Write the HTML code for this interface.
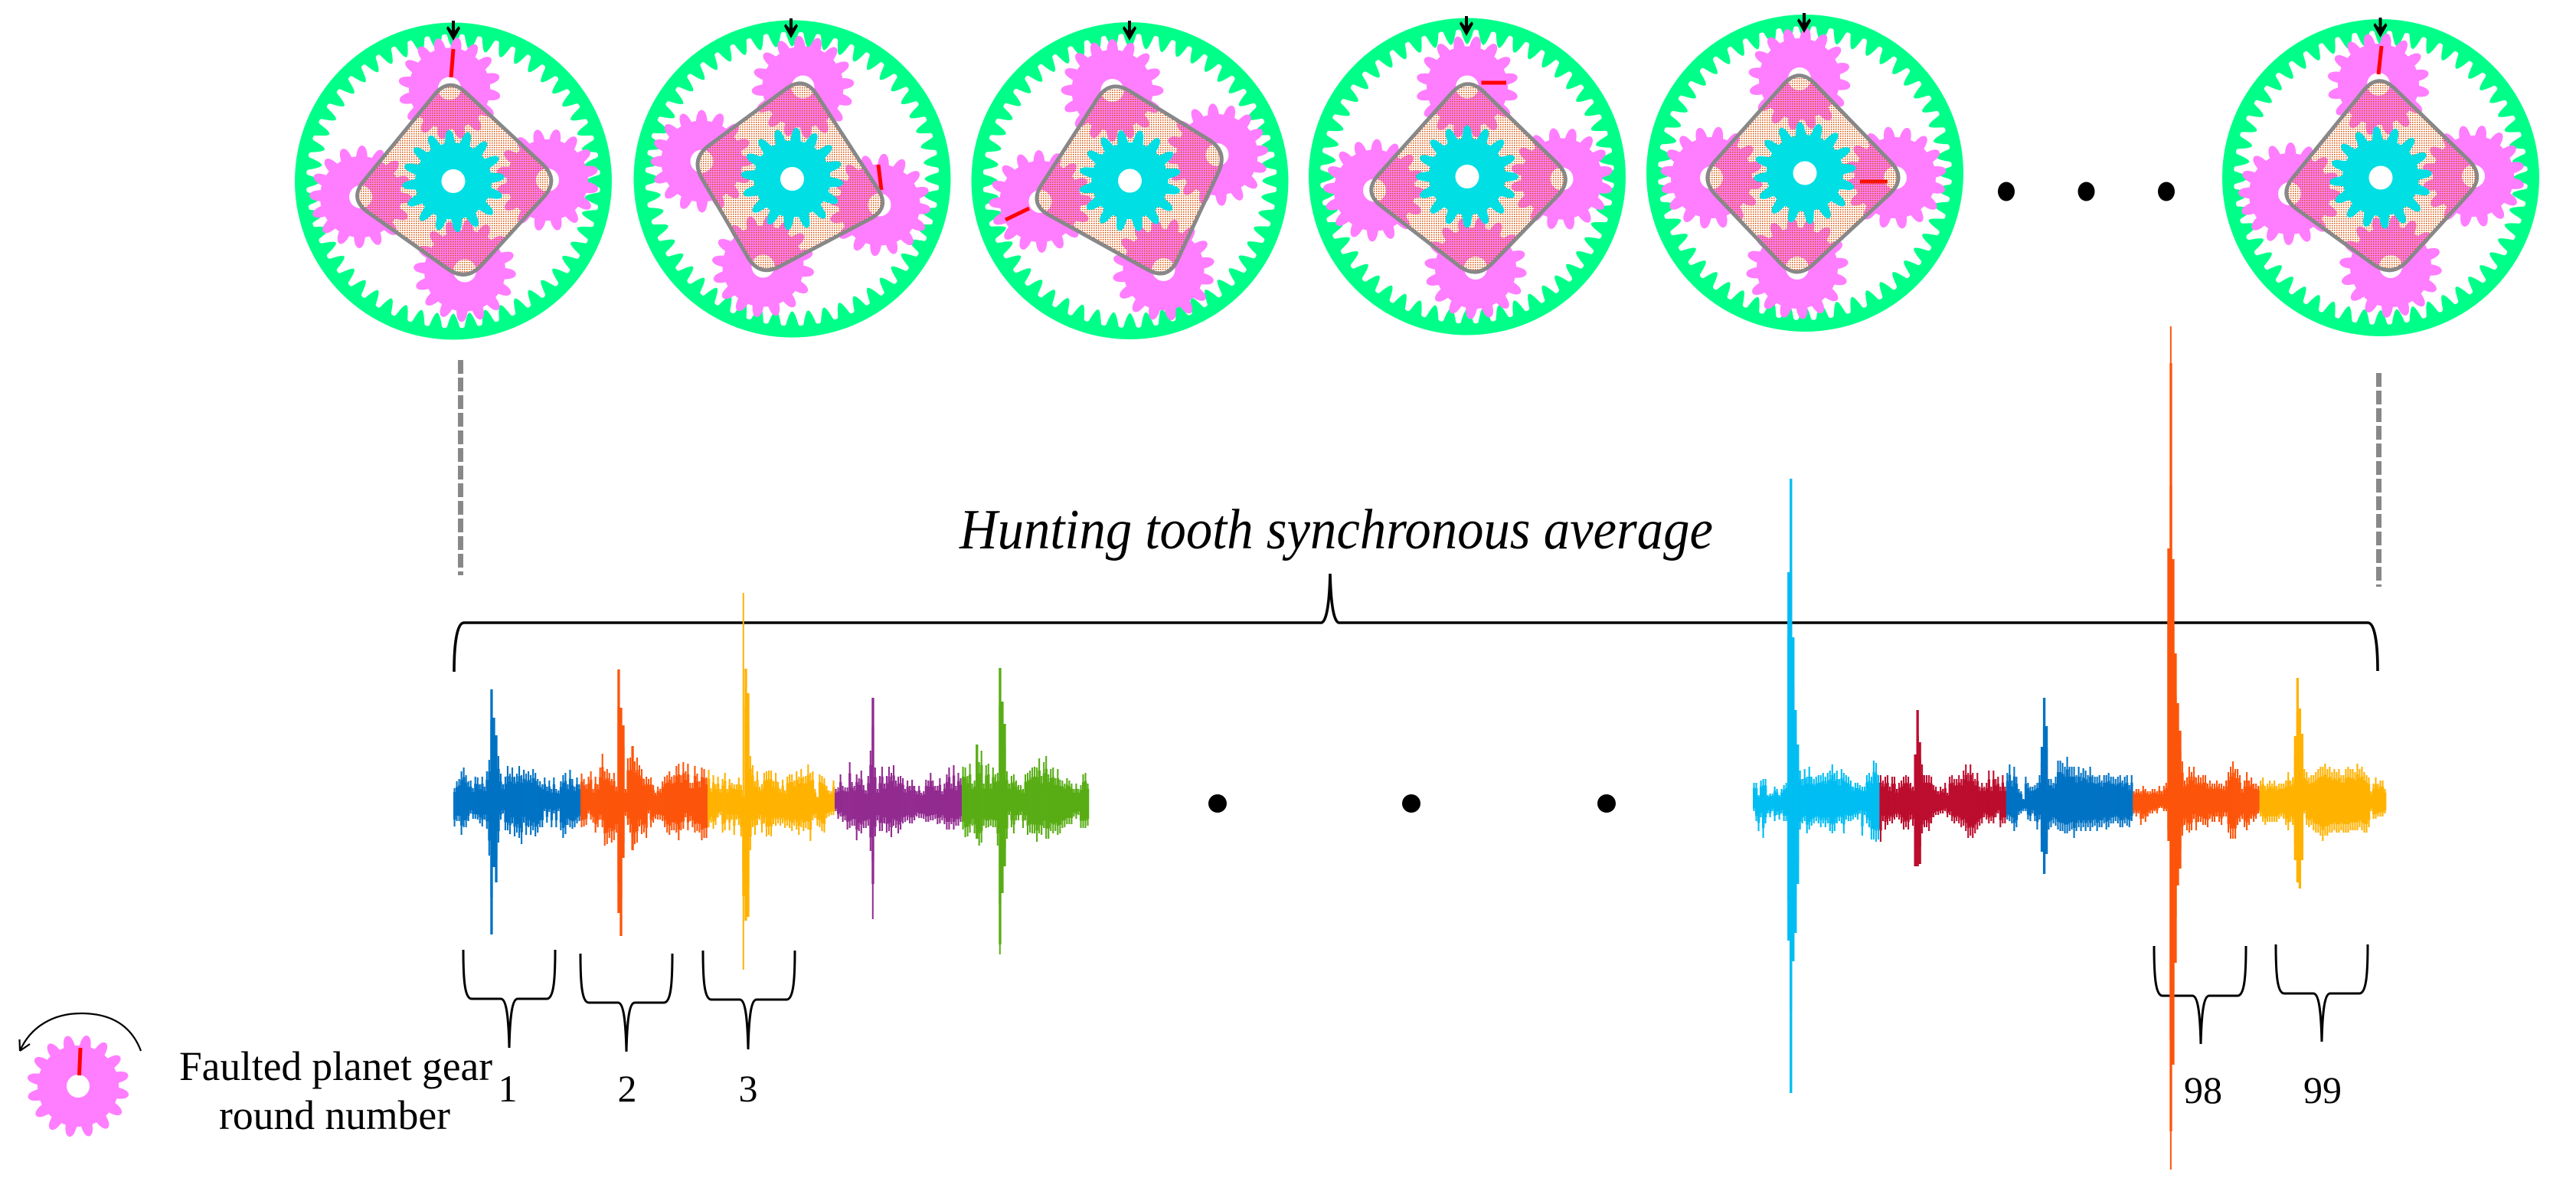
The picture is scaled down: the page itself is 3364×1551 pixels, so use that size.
<!DOCTYPE html>
<html lang="en">
<head>
<meta charset="utf-8">
<title>Hunting tooth synchronous average</title>
<style>
html,body{margin:0;padding:0;background:#fff;width:3364px;height:1551px;overflow:hidden}
svg{display:block}
text{font-family:"Liberation Serif",serif;fill:#000}
</style>
</head>
<body>
<svg id="figure" xmlns="http://www.w3.org/2000/svg" width="3364" height="1551" viewBox="0 0 3364 1551">
  <defs>
    <pattern id="carrier-dots" width="3" height="3" patternUnits="userSpaceOnUse">
      <rect width="1.5" height="1.5" fill="#d94f00"></rect>
    </pattern>
  </defs>
  <rect width="3364" height="1551" fill="#fff"></rect>
  <g id="gears"></g>

  <g fill="#000">
    <ellipse cx="2620" cy="250" rx="11" ry="12.5"></ellipse>
    <ellipse cx="2724.5" cy="250" rx="11" ry="12.5"></ellipse>
    <ellipse cx="2829" cy="250" rx="11" ry="12.5"></ellipse>
  </g>

  <line x1="601.5" y1="470" x2="601.5" y2="751" stroke="#888" stroke-width="7" stroke-dasharray="18 5"></line>
  <line x1="3106.5" y1="487" x2="3106.5" y2="766" stroke="#888" stroke-width="7" stroke-dasharray="18 5"></line>

  <text x="1253" y="716" font-size="74" font-style="italic" textLength="984" lengthAdjust="spacingAndGlyphs">Hunting tooth synchronous average</text>

  <path fill="none" stroke="#000" stroke-width="3.6" d="M593 877 C593 845 596 813 606 813 L1725 813 C1732 813 1736 790 1737 749 C1738 790 1742 813 1749 813 L3092 813 C3102 813 3105 845 3105 876"></path>

  <g fill="none" stroke="#000" stroke-width="3">
    <path d="M605 1240 C605 1280 607 1304 616 1304 L654 1304 C661 1304 664 1325 665 1368 C666 1325 669 1304 676 1304 L714 1304 C723 1304 725 1280 725 1240"></path>
    <path d="M758 1245 C758 1285 760 1309 769 1309 L807 1309 C814 1309 817 1330 818 1373 C819 1330 822 1309 829 1309 L867 1309 C876 1309 878 1285 878 1245"></path>
    <path d="M918 1241 C918 1281 920 1305 929 1305 L966 1305 C973 1305 976 1326 977 1370 C978 1326 981 1305 988 1305 L1027 1305 C1036 1305 1038 1281 1038 1241"></path>
    <path d="M2813 1235 C2813 1275 2815 1300 2824 1300 L2863 1300 C2870 1300 2873 1321 2874 1363 C2875 1321 2878 1300 2885 1300 L2922 1300 C2931 1300 2933 1275 2933 1235"></path>
    <path d="M2972 1233 C2972 1273 2974 1297 2983 1297 L3021 1297 C3028 1297 3031 1318 3032 1360 C3033 1318 3036 1297 3043 1297 L3081 1297 C3090 1297 3092 1273 3092 1233"></path>
  </g>

  <g id="signal"></g>

  <g fill="#000">
    <ellipse cx="1590" cy="1049" rx="12" ry="12"></ellipse>
    <ellipse cx="1843" cy="1049" rx="12" ry="12"></ellipse>
    <ellipse cx="2098" cy="1049" rx="12" ry="12"></ellipse>
  </g>

  <text x="663" y="1438" font-size="50" text-anchor="middle">1</text>
  <text x="819" y="1438" font-size="50" text-anchor="middle">2</text>
  <text x="977" y="1438" font-size="50" text-anchor="middle">3</text>
  <text x="2877" y="1440" font-size="50" text-anchor="middle">98</text>
  <text x="3033" y="1440" font-size="50" text-anchor="middle">99</text>

  <g id="legend-gear"></g>
  <path fill="none" stroke="#000" stroke-width="2.2" d="M184 1372 C170 1335 140 1323 106 1323 C70 1323 40 1340 26 1372 M26 1372 L25.500 1357 M26 1372 L39 1363"></path>
  <text x="234" y="1410" font-size="54" textLength="409" lengthAdjust="spacingAndGlyphs">Faulted planet gear</text>
  <text x="286" y="1474" font-size="54" textLength="302" lengthAdjust="spacingAndGlyphs">round number</text>
</svg>

<script>
// Rounds shown in the waveform, then per-bin upper / lower envelope amplitudes.
const rounds = [1, 2, 3, 4, 5, 95, 96, 97, 98, 99];
const roundColors = ["#0072c4", "#fc550b", "#ffb200", "#922b90", "#58ad15", "#00bdf2", "#bc0d2e", "#0072c4", "#fc550b", "#ffb200"];

const round1Up = [18,27,30,40,45,35,27,28,18,33,32,23,33,20,40,55,147,110,87,60,37,23,33,47,37,45,33,37,47,35,42,37,40,35,43,38,30,27,23,32,20,28,17,32,17,15,27,35,38,23,42,30,20,32,23];
const round1Down = [32,25,25,43,33,33,25,15,22,22,23,28,32,23,35,70,173,85,105,53,23,15,37,37,42,28,45,40,47,55,27,43,33,43,37,45,40,33,33,12,27,13,33,15,33,12,37,47,42,30,33,35,33,28,25];
const round2Up = [37,30,23,33,40,17,33,23,45,63,40,43,38,30,38,20,173,123,100,17,57,58,73,53,58,48,43,30,33,30,32,22,12,20,17,27,33,35,40,33,35,47,50,35,52,40,50,25,25,47,37,27,45,43,32];
const round2Down = [33,32,30,15,23,27,40,33,23,33,57,55,47,53,50,40,145,175,73,18,30,40,63,55,53,32,42,40,47,15,33,27,22,23,23,25,33,40,43,37,37,40,50,37,35,20,37,25,33,40,38,40,50,47,47];
const round3Up = [42,18,35,23,33,17,30,38,17,30,25,23,23,32,22,7,174,142,60,48,27,40,20,23,38,40,41,41,27,38,26,17,29,15,33,36,36,28,40,33,43,33,34,49,38,40,17,7,36,34,31,21,15,14,28];
const round3Down = [33,27,35,30,20,17,40,37,23,37,23,43,23,30,45,123,155,150,63,33,43,30,23,40,28,45,43,45,29,31,28,31,28,34,31,34,38,31,36,43,33,38,34,36,51,24,21,31,33,38,40,21,19,17,17];
const round4Up = [17,19,36,21,19,19,52,26,21,36,31,41,22,15,34,67,136,45,17,34,46,24,34,46,38,48,28,33,34,31,17,28,21,29,21,14,21,12,14,29,28,38,28,21,21,31,14,24,36,45,24,48,21,38,31];
const round4Down = [12,22,19,26,24,36,34,31,31,50,38,41,34,34,31,64,107,45,24,38,38,28,40,38,46,31,34,41,36,28,26,24,28,28,24,19,21,21,22,26,26,24,24,22,29,28,24,29,36,36,29,36,31,31,26];
const round5Up = [46,45,34,50,24,28,75,52,67,24,48,50,24,45,36,38,175,131,102,40,24,34,36,28,22,22,17,36,38,41,45,46,45,57,34,52,60,36,43,45,31,43,29,28,24,31,28,24,17,24,17,22,36,38,24];
const round5Down = [36,46,45,40,31,41,48,57,53,31,34,33,31,33,33,57,186,119,84,48,17,33,41,24,24,17,34,24,43,40,41,41,52,41,43,34,48,48,38,41,38,43,41,34,33,29,29,29,19,22,17,34,34,34,31];
const round95Up = [25,25,9,28,30,30,9,11,11,20,17,9,17,22,25,300,422,215,120,75,41,30,43,33,46,33,30,33,35,35,38,33,38,41,49,38,41,30,43,38,35,33,28,20,25,25,22,20,20,35,38,33,54,51,35];
const round95Down = [12,25,38,20,47,28,15,20,12,25,17,23,15,25,25,181,380,208,171,107,36,28,25,41,36,31,28,25,28,33,28,33,28,38,41,38,28,25,28,41,23,25,25,23,20,23,15,44,17,28,33,49,49,52,49];
const round96Up = [35,28,33,35,20,33,33,17,25,28,33,35,33,25,20,62,120,78,49,35,35,35,33,22,20,14,20,17,25,12,33,35,30,30,35,30,41,49,38,49,38,30,38,20,25,20,25,41,20,41,30,33,20,35,20];
const round96Down = [52,25,36,30,25,28,23,20,23,28,36,33,36,23,31,84,84,81,41,33,33,38,28,20,17,17,15,15,12,20,17,25,28,25,28,33,31,38,47,44,47,41,36,31,28,20,23,28,25,28,20,15,33,28,28];
const round97Up = [38,49,28,46,33,17,14,4,33,25,20,20,22,25,35,72,136,99,30,30,25,33,54,54,51,46,59,46,46,46,35,46,38,44,41,35,46,35,33,33,35,28,35,35,38,33,33,30,33,35,28,33,35,22,35];
const round97Down = [23,25,28,38,33,17,15,12,12,23,25,15,25,36,23,65,94,68,36,33,28,31,36,38,38,41,41,38,36,47,38,33,38,33,38,33,38,33,31,38,33,33,28,36,33,28,28,25,28,33,33,28,31,33,25];
const round98Up = [14,17,17,14,21,17,14,14,17,17,14,21,14,21,25,331,573,317,194,129,93,53,28,32,46,39,46,32,35,32,35,35,24,28,24,24,28,24,24,21,28,39,46,53,43,43,35,17,28,39,28,32,24,24,21];
const round98Down = [15,19,15,30,22,26,19,15,15,12,15,8,8,12,12,51,430,343,210,109,87,44,30,37,40,37,22,37,26,26,30,30,33,22,26,26,19,26,30,19,19,40,48,48,48,30,26,22,33,37,30,22,26,22,15];
const round99Up = [28,32,21,24,28,24,28,21,24,24,24,28,39,28,32,86,162,122,89,43,39,32,35,35,39,43,46,46,50,43,46,39,43,39,43,35,35,43,46,43,43,39,50,43,46,39,35,32,14,24,32,24,28,28,17];
const round99Down = [19,26,30,26,26,26,26,26,22,19,22,30,37,26,30,76,105,113,76,15,30,33,30,37,40,40,44,51,44,44,40,40,37,40,40,37,40,40,40,37,37,37,37,33,37,40,40,33,12,22,22,19,19,19,15];

// Thin needle at the fault impact of some rounds: round, bin, upper and lower amplitude.
const needleRounds = [3, 4, 5, 95, 98];
const needleBins = [15, 16, 16, 16, 16];
const needleUp = [273, 136, 175, 422, 621];
const needleDown = [219, 153, 199, 380, 480];

const allUp = [round1Up, round2Up, round3Up, round4Up, round5Up, round95Up, round96Up, round97Up, round98Up, round99Up];
const allDown = [round1Down, round2Down, round3Down, round4Down, round5Down, round95Down, round96Down, round97Down, round98Down, round99Down];

const SVGNS = "http://www.w3.org/2000/svg";
function mk(tag, parent, attrs) {
  const el = document.createElementNS(SVGNS, tag);
  for (const k in attrs) el.setAttribute(k, attrs[k]);
  parent.appendChild(el);
  return el;
}

// ---------- waveform axes ----------
function roundLeft(r) { return r <= 5 ? 592 + (r - 1) * 166 : 2289 + (r - 95) * 165.4; }
function roundWidth(r) { return r <= 5 ? 166 : 165.4; }
function xAxis(r, bin, binCount) { return roundLeft(r) + bin * roundWidth(r) / binCount; }
function yAxis(v) { return 1047 - v; }

const signal = document.getElementById("signal");
rounds.forEach(function (r, i) {
  const up = allUp[i];
  const down = allDown[i];
  const g = mk("g", signal, { fill: roundColors[i] });
  
  
  const w = roundWidth(r) / up.length;
  up.forEach(function (u, b) {
    const x = xAxis(r, b, up.length);
    const big = u > 70 || down[b] > 70;
    // solid core across the whole bin, thinner needle up to the full envelope
    const core = mk("rect", g, {
      x: x.toFixed(2),
      y: yAxis(u * 0.72).toFixed(1),
      width: (w + 0.3).toFixed(2),
      height: (yAxis(-down[b] * 0.72) - yAxis(u * 0.72)).toFixed(1)
    });
    
    
    const bar = mk("rect", g, {
      x: big ? x.toFixed(2) : (x + 0.5).toFixed(2),
      y: yAxis(u),
      width: big ? (w + 0.3).toFixed(2) : 2.1,
      height: yAxis(-down[b]) - yAxis(u)
    });
    
    
  });
  needleRounds.forEach(function (nr, n) {
    if (nr !== r) return;
    const needle = mk("rect", g, {
      x: (xAxis(r, needleBins[n], up.length) + 0.5).toFixed(2),
      y: yAxis(needleUp[n]),
      width: 2,
      height: yAxis(-needleDown[n]) - yAxis(needleUp[n])
    });
    
    
  });
});

// ---------- gears ----------
function toothPoints(cx, cy, rootR, tipR, n, phaseDeg, wFrac, power) {
  const pts = [];
  const steps = 14;
  for (let k = 0; k < n; k++) {
    for (let s = 0; s < steps; s++) {
      const t = s / steps - 0.5;
      const q = Math.min(1, Math.abs(t) / (wFrac / 2));
      const f = q >= 1 ? 0 : Math.pow(Math.cos(q * Math.PI / 2), power);
      const r = rootR + (tipR - rootR) * f;
      const a = (phaseDeg + (k + t) * 360 / n) * Math.PI / 180;
      pts.push((cx + r * Math.cos(a)).toFixed(1) + " " + (cy + r * Math.sin(a)).toFixed(1));
    }
  }
  return "M" + pts.join("L") + "Z";
}
function circlePath(cx, cy, r) {
  return "M" + (cx - r) + " " + cy + "a" + r + " " + r + " 0 1 0 " + (2 * r) + " 0a" + r + " " + r + " 0 1 0 " + (-2 * r) + " 0Z";
}
function roundedPoly(v, r) {
  let d = "";
  for (let i = 0; i < v.length; i++) {
    const p = v[i], a = v[(i + v.length - 1) % v.length], b = v[(i + 1) % v.length];
    const la = Math.hypot(a[0] - p[0], a[1] - p[1]), lb = Math.hypot(b[0] - p[0], b[1] - p[1]);
    const s = [p[0] + (a[0] - p[0]) * r / la, p[1] + (a[1] - p[1]) * r / la];
    const e = [p[0] + (b[0] - p[0]) * r / lb, p[1] + (b[1] - p[1]) * r / lb];
    d += (i ? "L" : "M") + s[0].toFixed(1) + " " + s[1].toFixed(1) + "Q" + p[0].toFixed(1) + " " + p[1].toFixed(1) + " " + e[0].toFixed(1) + " " + e[1].toFixed(1);
  }
  return d + "Z";
}

const gearLayouts = [
  { c: [592, 236.5], arrow: [592, 27, 53], holes: [[-5, -121], [123, -1.5], [15, 117], [-121, 20.5]], fault: [592, 64, 589, 101], sun: -95 },
  { c: [1034.5, 233.5], arrow: [1033, 24, 50], holes: [[14, -120], [114, 34], [-38, 114], [-118, -23]], fault: [1147, 215, 1151, 248], sun: -85 },
  { c: [1475.5, 236], arrow: [1475, 27, 53], holes: [[-23, -118], [114, -34], [44, 116], [-117, 27]], fault: [1313, 287, 1344, 272], sun: -78 },
  { c: [1916, 230.5], arrow: [1915, 21, 47], holes: [[0, -117], [123.5, 3], [11, 119.5], [-121, 18]], fault: [1934.5, 108, 1967, 108], sun: -90 },
  { c: [2357, 226], arrow: [2356, 17, 43], holes: [[-7, -123], [118, 6], [-10, 124], [-122, 6]], fault: [2429, 237, 2465, 237], sun: -96 },
  { c: [3109, 232], arrow: [3108.5, 23, 49], holes: [[-3, -122], [121, -2], [13, 116], [-119, 21]], fault: [3110, 60, 3106, 97], sun: -95 }
];

const gearsRoot = document.getElementById("gears");
gearLayouts.forEach(function (L) {
  const cx = L.c[0], cy = L.c[1];
  const g = mk("g", gearsRoot, {});
  
  

  const ring = mk("path", g, {
    d: circlePath(cx, cy, 207) + toothPoints(cx, cy, 192, 173, 52, -90, 0.74, 0.9),
    fill: "#00ff88", "fill-rule": "evenodd"
  });
  
  

  L.holes.forEach(function (h) {
    const px = cx + h[0], py = cy + h[1];
    const ang = Math.atan2(h[1], h[0]) * 180 / Math.PI;
    const planet = mk("path", g, {
      d: toothPoints(px, py, 53, 67, 16, ang + 11.25, 0.64, 0.5) + circlePath(px, py, 15),
      fill: "#ff7dff", "fill-rule": "evenodd"
    });
    
    
  });

  const crack = mk("line", g, {
    x1: L.fault[0], y1: L.fault[1], x2: L.fault[2], y2: L.fault[3],
    stroke: "#ff0000", "stroke-width": 5
  });
  
  

  const verts = L.holes.map(function (h) { return [cx + h[0] * 1.125, cy + h[1] * 1.125]; });
  const carrier = mk("path", g, {
    d: roundedPoly(verts, 30), fill: "url(#carrier-dots)", stroke: "#888", "stroke-width": 5
  });
  
  

  const sun = mk("path", g, {
    d: toothPoints(cx, cy, 50, 67, 16, L.sun, 0.6, 0.5), fill: "#00dfe3"
  });
  
  

  const bore = mk("circle", g, { cx: cx, cy: cy, r: 15.5, fill: "#fff" });
  
  

  const x = L.arrow[0], top = L.arrow[1], tip = L.arrow[2];
  const arrow = mk("polygon", g, {
    points: [[x, tip], [x + 9, tip - 16], [x + 7, tip - 19], [x + 2, tip - 13], [x + 2, top], [x - 2, top], [x - 2, tip - 13], [x - 7, tip - 19], [x - 9, tip - 16]].join(" "),
    fill: "#000"
  });
  
  
});

// ---------- legend gear ----------
const legendRoot = document.getElementById("legend-gear");
const legendPlanet = mk("path", legendRoot, {
  d: toothPoints(102, 1418, 53, 67, 16, -80, 0.64, 0.5) + circlePath(102, 1418, 15),
  fill: "#ff7dff", "fill-rule": "evenodd"
});


const legendCrack = mk("line", legendRoot, { x1: 105, y1: 1368, x2: 103.5, y2: 1404, stroke: "#ff0000", "stroke-width": 5 });


</script>
</body>
</html>
